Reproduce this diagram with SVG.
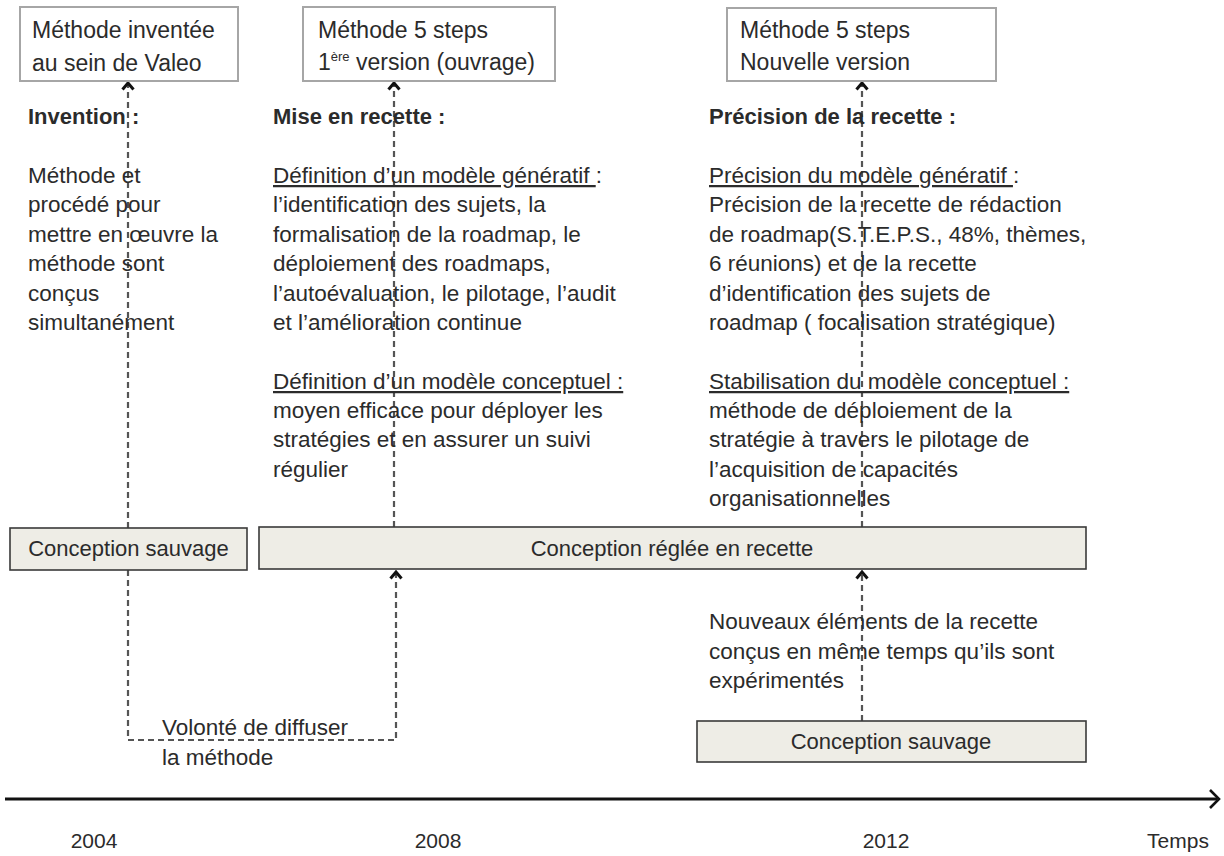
<svg xmlns="http://www.w3.org/2000/svg" width="1224" height="856" viewBox="0 0 1224 856">
<defs>
<style>
text{font-family:"Liberation Sans",Arial,sans-serif;font-size:22.5px;fill:#2b2b2b}
.bx{font-size:23px}
.b{font-weight:bold;font-size:22px}
.u{text-decoration:underline}
.bt{font-size:22px}
.yr{font-family:"Liberation Sans Narrow","Liberation Sans",sans-serif;font-size:21px}
.top{fill:#fff;stroke:#a6a6a6;stroke-width:2}
.bar{fill:#eeede6;stroke:#3a3a3a;stroke-width:1.6}
.dash{fill:none;stroke:#555;stroke-width:2.2;stroke-dasharray:6 4}
.tl{fill:none;stroke:#111;stroke-width:3}
</style>
<marker id="ah" viewBox="0 0 10 14" refX="8" refY="7" markerWidth="10" markerHeight="14" markerUnits="userSpaceOnUse" orient="auto">
<path d="M1.5,1.5 L8,7 L1.5,12.5" fill="none" stroke="#111" stroke-width="3"/>
</marker>
</defs>
<rect width="1224" height="856" fill="#fff"/>

<g id="connectors">
<path class="dash" d="M128,528 V83" marker-end="url(#ah)"/>
<path class="dash" d="M394,527 V83" marker-end="url(#ah)"/>
<path class="dash" d="M862,527 V83" marker-end="url(#ah)"/>
<path class="dash" d="M128,570 V740 H396 V572" marker-end="url(#ah)"/>
<path class="dash" d="M862,721 V572" marker-end="url(#ah)"/>
</g>

<g id="box-valeo">
<rect class="top" x="20" y="7" width="218" height="74"/>
<text class="bx" x="32" y="38">Méthode inventée</text>
<text class="bx" x="32" y="71">au sein de Valeo</text>
</g>
<g id="box-5steps-v1">
<rect class="top" x="303" y="7" width="252" height="74"/>
<text class="bx" x="318" y="38">Méthode 5 steps</text>
<text class="bx" x="318" y="70">1<tspan font-size="13" dy="-9">ère</tspan><tspan dy="9"> version (ouvrage)</tspan></text>
</g>
<g id="box-5steps-new">
<rect class="top" x="727" y="8" width="269" height="73"/>
<text class="bx" x="740" y="38">Méthode 5 steps</text>
<text class="bx" x="740" y="70">Nouvelle version</text>
</g>

<g id="col-invention">
<text class="b" x="28" y="124">Invention :</text>
<text x="28" y="183">Méthode et</text>
<text x="28" y="212">procédé pour</text>
<text x="28" y="242">mettre en œuvre la</text>
<text x="28" y="271">méthode sont</text>
<text x="28" y="301">conçus</text>
<text x="28" y="330">simultanément</text>
</g>

<g id="col-recette">
<text class="b" x="273" y="124">Mise en recette :</text>
<text x="273" y="183"><tspan class="u">Définition d’un modèle génératif </tspan>:</text>
<text x="273" y="212">l’identification des sujets, la</text>
<text x="273" y="242">formalisation de la roadmap, le</text>
<text x="273" y="271">déploiement des roadmaps,</text>
<text x="273" y="301">l’autoévaluation, le pilotage, l’audit</text>
<text x="273" y="330">et l’amélioration continue</text>
<text class="u" x="273" y="389">Définition d’un modèle conceptuel :</text>
<text x="273" y="418">moyen efficace pour déployer les</text>
<text x="273" y="447">stratégies et en assurer un suivi</text>
<text x="273" y="477">régulier</text>
</g>

<g id="col-precision">
<text class="b" x="709" y="124">Précision de la recette :</text>
<text x="709" y="183"><tspan class="u">Précision du modèle génératif </tspan>:</text>
<text x="709" y="212">Précision de la recette de rédaction</text>
<text x="709" y="242">de roadmap(S.T.E.P.S., 48%, thèmes,</text>
<text x="709" y="271">6 réunions) et de la recette</text>
<text x="709" y="301">d’identification des sujets de</text>
<text x="709" y="330">roadmap ( focalisation stratégique)</text>
<text class="u" x="709" y="389">Stabilisation du modèle conceptuel :</text>
<text x="709" y="418">méthode de déploiement de la</text>
<text x="709" y="447">stratégie à travers le pilotage de</text>
<text x="709" y="477">l’acquisition de capacités</text>
<text x="709" y="506">organisationnelles</text>
</g>

<g id="bar-sauvage-1">
<rect class="bar" x="10" y="528" width="237" height="42"/>
<text class="bt" x="128.5" y="556" text-anchor="middle">Conception sauvage</text>
</g>
<g id="bar-reglee">
<rect class="bar" x="259" y="527" width="827" height="42"/>
<text class="bt" x="672" y="556" text-anchor="middle">Conception réglée en recette</text>
</g>

<g id="label-nouveaux">
<text x="709" y="629">Nouveaux éléments de la recette</text>
<text x="709" y="659">conçus en même temps qu’ils sont</text>
<text x="709" y="688">expérimentés</text>
</g>

<g id="label-volonte">
<text x="162" y="735">Volonté de diffuser</text>
<text x="162" y="765">la méthode</text>
</g>

<g id="bar-sauvage-2">
<rect class="bar" x="697" y="721" width="389" height="41"/>
<text class="bt" x="891" y="749" text-anchor="middle">Conception sauvage</text>
</g>

<g id="timeline">
<path class="tl" d="M5,799 H1217"/>
<path d="M1210,790 L1219,799 L1210,808" fill="none" stroke="#111" stroke-width="2.6"/>
<text class="yr" x="94" y="848" text-anchor="middle">2004</text>
<text class="yr" x="438" y="848" text-anchor="middle">2008</text>
<text class="yr" x="886" y="848" text-anchor="middle">2012</text>
<text class="yr" x="1178" y="848" text-anchor="middle">Temps</text>
</g>
</svg>
